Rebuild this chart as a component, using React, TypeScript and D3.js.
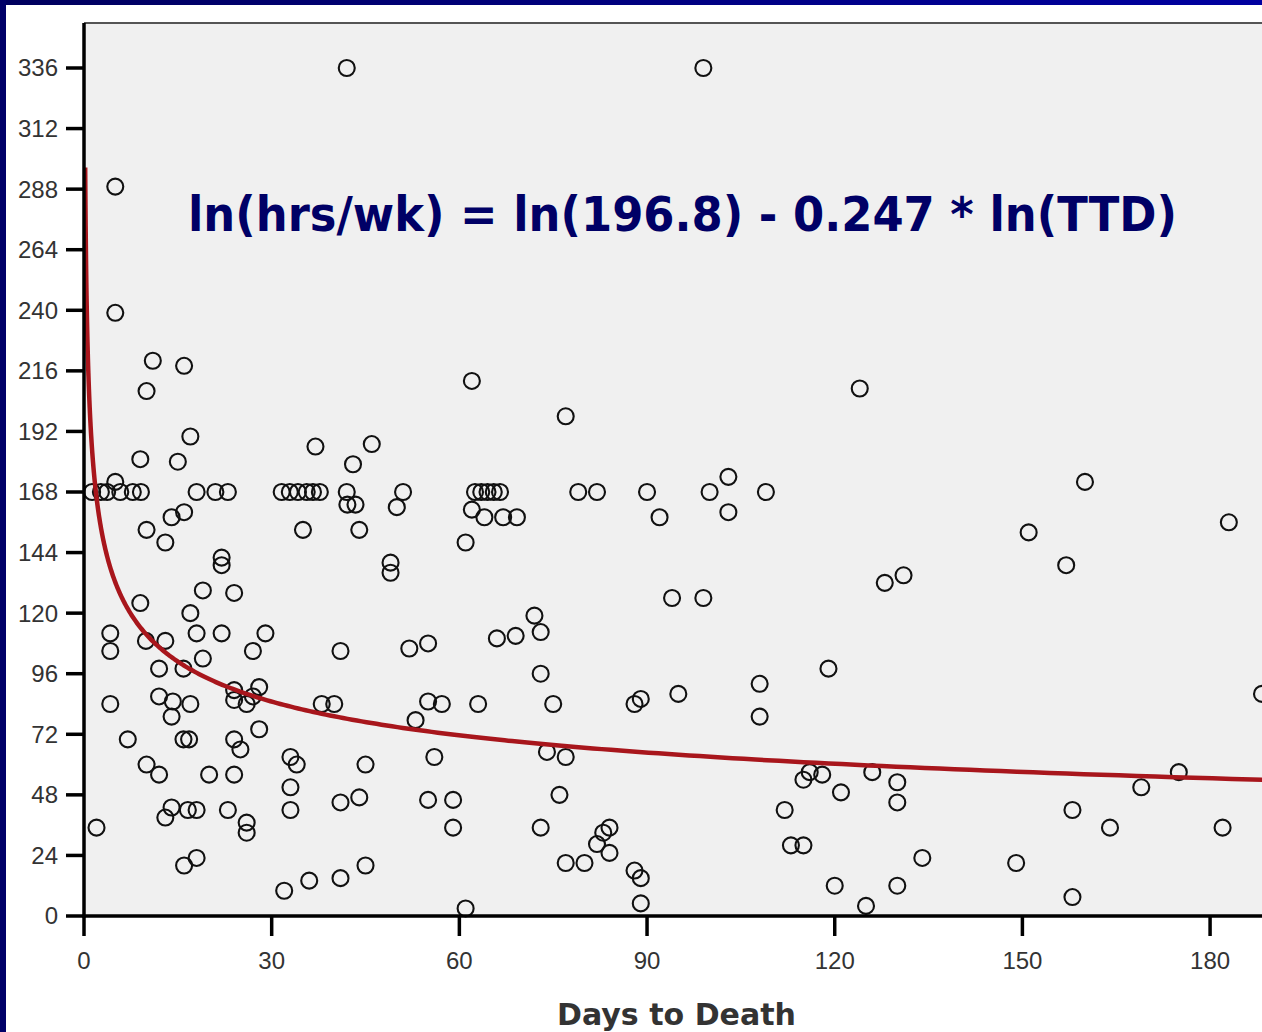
import React from "react";
import * as d3 from "d3";

// ---- data ----
const daysToDeath: number[] = [
  2, 1.3, 2.7, 3.7, 5.8, 7.8, 9.1, 5, 4.2, 4.2, 4.2, 5, 5, 7, 9, 9, 10, 10, 9.9, 10,
  11, 12, 12, 12, 13, 13, 13, 14, 14.2, 14, 14, 15, 16, 16, 15.9, 15.9, 16.8, 16, 16.6, 18,
  17, 17, 17, 18, 18, 18, 19, 19, 20, 21, 22, 22, 22, 23, 23, 24, 24, 24, 24, 24,
  25, 26, 26, 26, 27, 27, 28, 28, 29,
  31.6, 32.9, 34.2, 35.6, 36.6, 37.7, 32, 33, 34, 33, 33, 35, 36, 37, 38, 40, 41, 41, 41,
  42, 42, 42.1, 43.4, 43, 44, 44, 45, 45, 46, 49, 49, 50, 51, 52, 53, 55, 55, 57.2, 55,
  56, 59, 59,
  61, 61, 62, 62, 62.5, 63.5, 64.5, 65.5, 66.5, 63, 64, 67, 69.2, 66, 69, 72, 73, 73, 73, 74,
  75, 76, 77, 77, 77, 80, 79, 82, 82, 83, 84, 84, 88, 89, 88, 89, 89, 90,
  92, 94, 95, 99, 99, 100, 103, 103, 108, 108, 109, 112, 113, 115, 115, 116, 118, 119, 120, 121,
  124, 125, 126, 128, 130, 130, 130, 131, 134, 149, 151, 157, 158, 158, 160, 164, 169, 175, 182, 183,
  188.3,
];
const hoursPerWeek: number[] = [
  35, 168, 168, 168, 168, 168, 168, 172, 112, 105, 84, 289, 239, 70, 181, 124, 208, 60, 109, 153,
  220, 56, 98, 87, 109, 148, 39, 158, 85, 79, 43, 180, 218, 160, 98, 70, 70, 20, 42, 42,
  190, 120, 84, 168, 112, 23, 129, 102, 56, 168, 142, 139, 112, 168, 42, 128, 89.5, 85.6, 70, 56,
  66, 84, 37, 33, 105, 87, 90.7, 74, 112,
  168, 168, 168, 168, 168, 168, 10, 63, 60, 51, 42, 153, 14, 186, 84, 84, 105, 45, 15,
  336, 168, 163, 163, 179, 153, 47, 60, 20, 187, 140, 136, 162, 168, 106, 77.6, 108, 85, 84, 46,
  63, 46, 35,
  148, 3, 212, 161, 168, 168, 168, 168, 168, 84, 158, 158, 158, 110, 111, 119, 112.5, 96, 35, 65,
  84, 48, 198, 63, 21, 21, 168, 168, 28.5, 33, 35, 25, 84, 86, 18, 15, 5, 168,
  158, 126, 88, 336, 126, 168, 174, 160, 92, 79, 168, 42, 28, 28, 54, 57, 56, 98, 12, 49,
  209, 4, 57, 132, 53, 45, 12, 135, 23, 21, 152, 139, 42, 7.5, 172, 35, 51, 57, 35, 156,
  88,
];
const xTicks: number[] = [0, 30, 60, 90, 120, 150, 180];
const yTicks: number[] = [0, 24, 48, 72, 96, 120, 144, 168, 192, 216, 240, 264, 288, 312, 336];
const fitIntercept = 196.8; // exp of ln intercept
const fitSlope = -0.247;
const titleText = "ln(hrs/wk) = ln(196.8) - 0.247 * ln(TTD)";
const xLabel = "Days to Death";

const W = 1262;
const H = 1032;
const plotLeft = 84;
const plotTop = 23;
const plotBottom = 916;

export default function App() {
  const x = d3.scaleLinear().domain([0, 190]).range([plotLeft, plotLeft + 190 * 6.256]);
  const y = d3.scaleLinear().domain([0, 336]).range([plotBottom, 68]);

  const fitX = d3.range(0, 400).map((i) => 0.19 * Math.pow(190 / 0.19, i / 399));
  const line = d3
    .line<number>()
    .x((d) => x(d))
    .y((d) => y(fitIntercept * Math.pow(d, fitSlope)));

  const pts = daysToDeath.map((d, i) => [d, hoursPerWeek[i]] as [number, number]);

  return (
    <div style={{ position: "absolute", left: 0, top: 0 }}>
      <svg width={W} height={H} style={{ display: "block" }}>
        <defs>
          <linearGradient id="topband" x1="0" x2="1" y1="0" y2="0">
            <stop offset="0" stopColor="#00005e" />
            <stop offset="1" stopColor="#0000a0" />
          </linearGradient>
          <clipPath id="plotclip">
            <rect x={plotLeft} y={plotTop} width={W - plotLeft} height={plotBottom - plotTop + 10} />
          </clipPath>
        </defs>
        <rect x={0} y={0} width={W} height={H} fill="#ffffff" />
        {/* plot background */}
        <rect x={plotLeft} y={plotTop} width={W - plotLeft} height={plotBottom - plotTop} fill="#f0f0f0" />
        <line x1={plotLeft} x2={W} y1={plotTop} y2={plotTop} stroke="#555" strokeWidth={2} />

        {/* points */}
        <g clipPath="url(#plotclip)">
          {pts.map(([dx, dy], i) => (
            <circle key={i} cx={x(dx)} cy={y(dy)} r={8} fill="none" stroke="#111" strokeWidth={2.1} />
          ))}
          <path
            d={line(fitX) || ""}
            fill="none"
            stroke="#a8161c"
            strokeWidth={4.5}
          />
        </g>

        {/* axes */}
        <line x1={plotLeft} x2={plotLeft} y1={plotTop} y2={plotBottom + 1.5} stroke="#000" strokeWidth={3.5} />
        <line x1={plotLeft - 1.5} x2={W} y1={plotBottom} y2={plotBottom} stroke="#000" strokeWidth={3.5} />
        {yTicks.map((t) => (
          <g key={"y" + t}>
            <line x1={66} x2={plotLeft} y1={y(t)} y2={y(t)} stroke="#000" strokeWidth={3.5} />
            <text
              x={58}
              y={y(t)}
              dy="0.35em"
              textAnchor="end"
              fontFamily="Liberation Sans, Arial, sans-serif"
              fontSize={24}
              fill="#333"
            >
              {t}
            </text>
          </g>
        ))}
        {xTicks.map((t) => (
          <g key={"x" + t}>
            <line x1={x(t)} x2={x(t)} y1={plotBottom} y2={936} stroke="#000" strokeWidth={3.5} />
            <text
              x={x(t)}
              y={961}
              dy="0.35em"
              textAnchor="middle"
              fontFamily="Liberation Sans, Arial, sans-serif"
              fontSize={24}
              fill="#333"
            >
              {t}
            </text>
          </g>
        ))}
        <text
          x={557}
          y={1025}
          fontFamily="DejaVu Sans, Verdana, sans-serif"
          fontWeight="bold"
          fontSize={30}
          fill="#333"
          textLength={239}
          lengthAdjust="spacingAndGlyphs"
        >
          {xLabel}
        </text>

        {/* title */}
        <text
          x={188}
          y={231}
          fontFamily="DejaVu Sans, Verdana, sans-serif"
          fontWeight="bold"
          fontSize={48}
          fill="#000066"
          textLength={989}
          lengthAdjust="spacingAndGlyphs"
        >
          {titleText}
        </text>

        {/* navy frame */}
        <rect x={0} y={0} width={W} height={5} fill="url(#topband)" />
        <rect x={0} y={0} width={6} height={H} fill="#000068" />
      </svg>
    </div>
  );
}
